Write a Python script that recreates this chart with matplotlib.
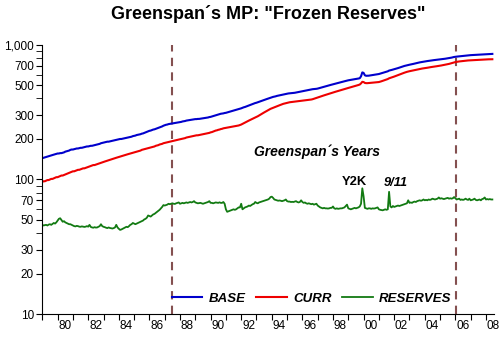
import numpy as np
import matplotlib
matplotlib.use('Agg')
import matplotlib.pyplot as plt
from matplotlib.ticker import FixedLocator, NullFormatter

plt.rcParams['font.family'] = ['Liberation Sans', 'DejaVu Sans']

# monthly data, Jan 1979 - Jun 2008 (billions $, log scale)
start_year = 1979
base = [
    144, 145, 146, 147, 148, 149, 150, 151, 152, 153, 154, 155,  # 1979
    156, 156, 157, 157, 158, 159, 161, 162, 163, 164, 166, 167,  # 1980
    167, 168, 169, 170, 170, 171, 172, 172, 173, 174, 175, 176,  # 1981
    176, 177, 178, 178, 179, 180, 181, 182, 183, 184, 186, 187,  # 1982
    188, 189, 190, 191, 191, 192, 193, 194, 195, 196, 197, 198,  # 1983
    199, 200, 200, 201, 202, 203, 204, 205, 206, 207, 208, 210,  # 1984
    211, 212, 214, 215, 216, 217, 219, 220, 222, 224, 226, 228,  # 1985
    230, 231, 233, 235, 236, 238, 240, 242, 244, 246, 248, 251,  # 1986
    253, 255, 256, 258, 259, 260, 261, 262, 263, 264, 265, 266,  # 1987
    267, 268, 270, 271, 272, 274, 275, 276, 277, 278, 279, 280,  # 1988
    281, 281, 282, 282, 283, 284, 285, 286, 287, 288, 289, 291,  # 1989
    292, 294, 296, 298, 300, 302, 304, 306, 308, 309, 310, 312,  # 1990
    313, 315, 317, 319, 321, 323, 325, 327, 329, 331, 333, 336,  # 1991
    338, 341, 344, 346, 349, 352, 355, 358, 361, 364, 367, 370,  # 1992
    372, 375, 378, 381, 384, 387, 390, 393, 396, 399, 402, 405,  # 1993
    408, 411, 413, 415, 418, 420, 422, 424, 426, 428, 430, 432,  # 1994
    434, 436, 437, 438, 439, 440, 441, 443, 445, 447, 449, 451,  # 1995
    453, 455, 457, 459, 461, 463, 465, 467, 469, 470, 471, 472,  # 1996
    474, 477, 480, 483, 486, 489, 492, 495, 498, 501, 504, 507,  # 1997
    510, 513, 516, 519, 522, 525, 528, 531, 534, 537, 540, 543,  # 1998
    546, 548, 550, 552, 554, 556, 558, 560, 563, 566, 585, 625,  # 1999
    620, 595, 590, 590, 591, 593, 595, 597, 598, 600, 602, 605,  # 2000
    608, 612, 616, 620, 624, 628, 633, 637, 645, 648, 652, 656,  # 2001
    660, 664, 668, 673, 678, 683, 688, 693, 698, 702, 706, 710,  # 2002
    713, 716, 720, 723, 727, 731, 735, 739, 742, 745, 748, 751,  # 2003
    753, 756, 759, 761, 764, 766, 769, 771, 773, 776, 778, 780,  # 2004
    782, 784, 786, 788, 790, 793, 795, 798, 801, 805, 810, 814,  # 2005
    817, 819, 821, 823, 825, 827, 829, 831, 833, 835, 837, 839,  # 2006
    840, 841, 842, 843, 844, 845, 846, 847, 848, 849, 851, 852,  # 2007
    853, 854, 855, 856, 857, 858,                                # 2008
]
curr = [
    96, 97, 97, 98, 99, 99, 100, 101, 101, 102, 103, 104,
    104, 105, 106, 107, 107, 108, 109, 110, 111, 112, 113, 114,
    115, 115, 116, 117, 118, 118, 119, 120, 121, 121, 122, 123,
    124, 125, 126, 127, 128, 128, 129, 130, 131, 132, 133, 134,
    135, 136, 137, 138, 139, 140, 141, 142, 143, 144, 145, 146,
    147, 148, 149, 150, 151, 152, 153, 154, 155, 156, 157, 158,
    159, 160, 161, 162, 163, 164, 166, 167, 168, 169, 170, 171,
    172, 173, 174, 175, 176, 178, 179, 180, 182, 183, 184, 186,
    187, 188, 189, 190, 191, 192, 193, 194, 195, 196, 197, 198,
    199, 200, 201, 202, 203, 205, 206, 207, 208, 209, 210, 211,
    212, 213, 213, 214, 215, 216, 217, 218, 219, 220, 221, 222,
    224, 225, 227, 229, 231, 232, 234, 235, 237, 238, 240, 241,
    242, 243, 244, 245, 246, 247, 248, 249, 250, 251, 252, 254,
    256, 259, 262, 265, 268, 271, 274, 277, 280, 283, 286, 289,
    292, 295, 299, 303, 307, 311, 315, 319, 323, 327, 331, 335,
    338, 341, 344, 347, 350, 353, 356, 359, 362, 365, 367, 369,
    371, 373, 375, 376, 377, 378, 379, 380, 381, 382, 383, 384,
    385, 386, 387, 388, 389, 390, 391, 393, 395, 398, 401, 404,
    407, 410, 413, 416, 419, 422, 425, 428, 431, 434, 437, 440,
    443, 446, 449, 452, 455, 458, 461, 464, 467, 470, 473, 476,
    479, 482, 485, 488, 491, 494, 497, 500, 504, 508, 518, 532,
    530, 522, 520, 520, 521, 522, 523, 524, 525, 526, 527, 528,
    530, 533, 537, 541, 545, 549, 553, 558, 565, 569, 573, 577,
    582, 587, 592, 597, 602, 607, 612, 617, 622, 627, 631, 635,
    638, 641, 645, 648, 651, 654, 657, 660, 663, 666, 668, 670,
    672, 675, 677, 680, 682, 685, 687, 690, 692, 694, 697, 699,
    701, 704, 707, 710, 713, 716, 719, 723, 727, 732, 737, 742,
    746, 749, 752, 754, 756, 758, 760, 762, 764, 766, 767, 768,
    769, 770, 771, 772, 773, 774, 775, 776, 777, 778, 779, 780,
    780, 781, 782, 782, 783, 783,
]
reserves = [
    46, 45.5, 45.8, 46, 45.5, 46.2, 46.5, 46, 46.8, 47.5, 47, 48,
    49.5, 51, 51.5, 50, 48.5, 49, 48, 47.5, 47, 46.5, 46.5, 46,
    45.5, 45, 44.8, 45.2, 45, 44.6, 44.5, 44.8, 44.6, 44.4, 44.6, 45,
    44.6, 46, 44.4, 44, 43.8, 44.2, 43.9, 44, 44.5, 45, 46.5, 45,
    44.5, 44.2, 43.8, 43.5, 44, 43.6, 43.4, 43.2, 43.5, 44, 46, 44,
    43, 42.2, 42.5, 43, 43.5, 44, 44.5, 44.2, 45, 46, 46.5, 47.5,
    47, 46.5, 47, 47.5, 48, 48.5, 49, 49.5, 50.5, 51, 52, 54,
    53.5, 53, 54, 55, 55.5, 56.5, 57.5, 58.5, 59.5, 61, 62.5, 64.5,
    64, 64.5, 65, 66, 65.5, 66, 66.5, 66, 65.8, 66.5, 67, 67.5,
    66, 66.5, 67, 66.5, 67, 67.5, 67, 67.5, 68, 67.5, 68, 69,
    67.5, 67, 66.5, 66.8, 67, 66.5, 66, 66.5, 67, 67.5, 68, 69,
    67, 67, 66.5, 67, 67.5, 67.2, 67, 67.6, 67, 67, 68, 66,
    60, 57.5, 58, 58.5, 59, 59.5, 60, 59.5, 60, 61, 62, 62,
    66, 60, 61, 62, 62.5, 63, 64, 63.5, 64.5, 65.5, 66, 68,
    67, 66.5, 67.5, 68, 68.5, 69, 69.5, 70, 70.5, 71, 72, 74,
    74.5, 73, 71, 70.5, 70, 69.5, 69.8, 69.5, 69, 69.5, 70, 71,
    69, 68.5, 68.5, 68, 68.2, 68, 68.5, 69, 68, 67.5, 68, 70,
    68, 67, 67.5, 66.5, 66, 66.5, 66, 65.5, 66, 65, 65.5, 66,
    64, 63, 62, 61.5, 61, 61.5, 61, 61, 60.8, 61, 61.5, 61.5,
    63, 61, 60.5, 61, 60.5, 60.8, 61, 61, 61.5, 62, 63.5, 65,
    61, 60.5, 60, 60.5, 61, 61.5, 61, 61.5, 62, 63, 66, 86,
    75, 61.5, 61, 60.5, 61, 61, 60.5, 61, 60.8, 61, 61.5, 62,
    60, 59.5, 59.3, 59, 59.5, 60, 59.5, 60, 81, 63, 62, 63.5,
    62.5, 63, 63.5, 64, 63.5, 64, 64.5, 65, 65.5, 66, 66.5, 70,
    67, 67.5, 67, 68, 68.5, 68, 69, 69.5, 70, 69.5, 70, 71,
    70, 70.5, 70, 71, 70.5, 71, 72, 71.5, 71, 71.5, 72, 73.5,
    72, 72.5, 72, 71.5, 72, 72.5, 73, 72, 72.5, 72, 72.5, 74,
    72.5, 71, 71.5, 72, 70.5, 71, 70.5, 71, 72, 71, 70.5, 72,
    70, 70.5, 71, 72, 70.5, 70, 70.5, 71, 70, 71.5, 72, 73.5,
    71, 71.5, 71, 71.5, 71, 71,
]
greenspan_start = 1987.46
greenspan_end = 2006.07

t = start_year + np.arange(len(base)) / 12.0

fig = plt.figure(figsize=(5.02, 3.38), dpi=100)
ax = fig.add_axes([0.0843, 0.071, 0.899, 0.796])

ax.plot(t, base, color='#0000CC', lw=1.5, label='BASE')
ax.plot(t, curr, color='#EE0000', lw=1.5, label='CURR')
ax.plot(t, reserves, color='#127A12', lw=1.3, label='RESERVES')

for xv in (greenspan_start, greenspan_end):
    ax.axvline(xv, color='#845050', lw=1.5, dashes=(4, 3), zorder=0)

ax.set_yscale('log')
ax.set_ylim(10, 1000)
ax.set_xlim(1979, 2008.5)

yt = [10, 20, 30, 50, 70, 100, 200, 300, 500, 700, 1000]
ax.yaxis.set_major_locator(FixedLocator(yt))
ax.set_yticklabels([f'{v:,}' for v in yt])
ax.yaxis.set_minor_locator(FixedLocator([40, 60, 80, 90, 400, 600, 800, 900]))
ax.yaxis.set_minor_formatter(NullFormatter())

ax.xaxis.set_major_locator(FixedLocator(np.arange(1979, 2009)))
ax.xaxis.set_major_formatter(NullFormatter())
lab_years = np.arange(1980, 2009, 2)
ax.xaxis.set_minor_locator(FixedLocator(lab_years + 0.48))
ax.set_xticklabels([f'{y % 100:02d}' for y in lab_years], minor=True)
ax.tick_params(axis='x', which='minor', length=0, labelsize=8.5, pad=4)
ax.tick_params(axis='x', which='major', length=4, direction='out')
ax.tick_params(axis='y', which='both', length=4, direction='out', labelsize=8.5, pad=2)

for s in ('top', 'right'):
    ax.spines[s].set_visible(False)

fig.text(0.534, 0.958, 'Greenspan\u00b4s MP: "Frozen Reserves"', ha='center', va='center',
         fontsize=13, fontweight='bold')

ax.text(1992.82, 161, 'Greenspan\u00b4s Years', fontsize=10, fontweight='bold',
        fontstyle='italic', ha='left', va='center')
ax.text(1999.4, 95.7, 'Y2K', fontsize=9.3, fontweight='bold', ha='center', va='center')
ax.text(2002.1, 93.4, '9/11', fontsize=9.3, fontweight='bold', fontstyle='italic',
        ha='center', va='center')

ax.legend(loc='center', bbox_to_anchor=(0.597, 0.056), ncol=3, frameon=False,
          handlelength=2.3, handletextpad=0.5, columnspacing=0.8,
          prop={'weight': 'bold', 'style': 'italic', 'size': 9.5})

fig.savefig('out.png', dpi=100)
